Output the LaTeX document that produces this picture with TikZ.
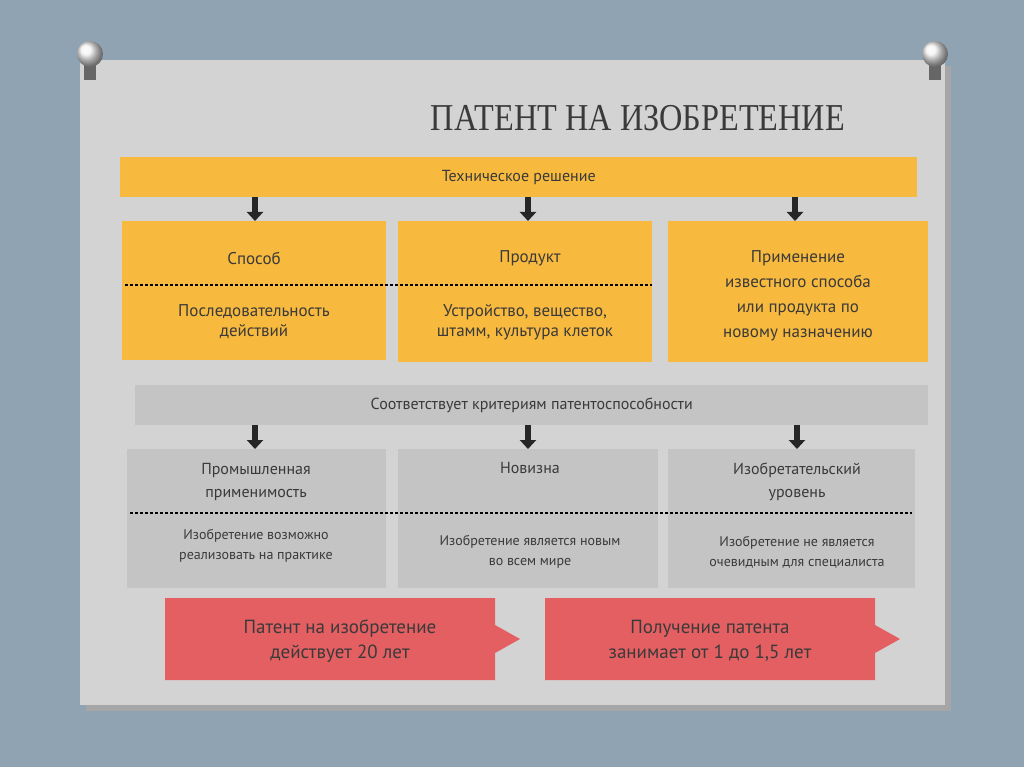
\documentclass[tikz,border=0pt]{standalone}
\usepackage{fontspec}
\setmainfont{PT Sans}
\newfontfamily\titlefont{Liberation Serif}
\usetikzlibrary{positioning,arrows.meta}
\definecolor{bgblue}{HTML}{8FA3B3}
\definecolor{card}{HTML}{D3D3D3}
\definecolor{gold}{HTML}{F7B93E}
\definecolor{graybox}{HTML}{C4C4C4}
\definecolor{redbox}{HTML}{E35F62}
\definecolor{ink}{HTML}{3A3A3A}
\tikzset{
  bar/.style={anchor=north west,inner sep=0pt,font=\fontsize{16}{18}\selectfont,text=ink},
  box/.style={anchor=north west,inner sep=0pt,align=center,text=ink},
  sep/.style={densely dashed,line width=1.6pt,black},
  down/.style={-{Triangle[length=9pt,width=16pt]},line width=6pt,black!85},
}
\begin{document}
\begin{tikzpicture}[x=1pt,y=-1pt]
\fill[bgblue] (0,0) rectangle (1024,767);
\useasboundingbox (0,0) rectangle (1024,767);
% card
\fill[black!35] (86,66) rectangle (951,711);
\fill[card] (80,60) rectangle (945,705);
% pins
\foreach \px in {90,935}{
  \fill[black!60] (\px-6,58) rectangle (\px+6,80);
  \shade[ball color=white!90!gray] (\px,54) circle (13);
}
\node[text=ink,font=\titlefont\fontsize{38}{40}\selectfont] (title) at (638,118) {\scalebox{0.85}[1]{ПАТЕНТ НА ИЗОБРЕТЕНИЕ}};
% technical solution
\node[bar,fill=gold,minimum width=797pt,minimum height=40pt] (tech) at (120,157) {Техническое решение};
\node[box,fill=gold,minimum width=264pt,minimum height=139pt] (way) at (122,221) {};
\node[box,fill=gold,minimum width=254pt,minimum height=141pt] (prod) at (398,221) {};
\node[box,fill=gold,minimum width=260pt,minimum height=141pt] (use) at (668,221) {};
\draw[sep] (125,285) -- (652,285);
\node[text=ink,font=\fontsize{17}{20}\selectfont] at (254,258) {Способ};
\node[text=ink,font=\fontsize{17}{20}\selectfont,align=center] at (254,322) {Последовательность\\действий};
\node[text=ink,font=\fontsize{17}{20}\selectfont] at (530,258) {Продукт};
\node[text=ink,font=\fontsize{17}{20}\selectfont,align=center] at (525,322) {Устройство, вещество,\\штамм, культура клеток};
\node[text=ink,font=\fontsize{17}{25}\selectfont,align=center] at (798,296) {Применение\\известного способа\\или продукта по\\новому назначению};
\foreach \ax/\bx in {255/way,528/prod,795/use}
  \draw[down] (\ax,197) -- (\ax,197 |- \bx.north);
% criteria
\node[bar,fill=graybox,minimum width=793pt,minimum height=40pt] (crit) at (135,385) {Соответствует критериям патентоспособности};
\node[box,fill=graybox,minimum width=259pt,minimum height=139pt] (ind) at (127,449) {};
\node[box,fill=graybox,minimum width=260pt,minimum height=139pt] (nov) at (398,449) {};
\node[box,fill=graybox,minimum width=247pt,minimum height=139pt] (lvl) at (668,449) {};
\draw[sep] (130,513) -- (912,513);
\node[text=ink,font=\fontsize{16}{23}\selectfont,align=center] at (256,482) {Промышленная\\применимость};
\node[text=ink,font=\fontsize{14}{20}\selectfont,align=center] at (256,546) {Изобретение возможно\\реализовать на практике};
\node[text=ink,font=\fontsize{16}{23}\selectfont] at (530,468) {Новизна};
\node[text=ink,font=\fontsize{14}{20}\selectfont,align=center] at (530,552) {Изобретение является новым\\во всем мире};
\node[text=ink,font=\fontsize{16}{23}\selectfont,align=center] at (797,482) {Изобретательский\\уровень};
\node[text=ink,font=\fontsize{14}{20}\selectfont,align=center] at (797,552) {Изобретение не является\\очевидным для специалиста};
\foreach \ax/\bx in {255/ind,528/nov,797/lvl}
  \draw[down] (\ax,425) -- (\ax,425 |- \bx.north);
% terms
\fill[redbox] (165,598) -- (495,598) -- (495,625) -- (520,639) -- (495,653) -- (495,680) -- (165,680) -- cycle;
\fill[redbox] (545,598) -- (875,598) -- (875,625) -- (900,639) -- (875,653) -- (875,680) -- (545,680) -- cycle;
\node[text=ink,font=\fontsize{19}{25}\selectfont,align=center] (valid) at (340,641) {Патент на изобретение\\действует 20 лет};
\node[text=ink,font=\fontsize{19}{25}\selectfont,align=center] (time) at (710,641) {Получение патента\\занимает от 1 до 1,5 лет};
\end{tikzpicture}
\end{document}
